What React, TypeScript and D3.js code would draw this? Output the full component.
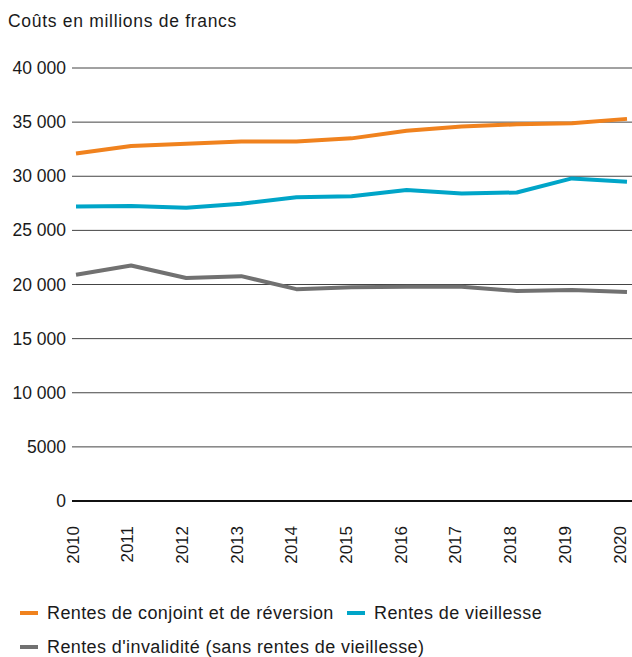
import React from "react";
import * as d3 from "d3";

const years = [2010, 2011, 2012, 2013, 2014, 2015, 2016, 2017, 2018, 2019, 2020];
const conjoint = [32100, 32800, 33000, 33200, 33200, 33500, 34200, 34600, 34800, 34900, 35300];
const vieillesse = [27200, 27260, 27100, 27450, 28070, 28160, 28740, 28400, 28500, 29800, 29500];
const invalidite = [20900, 21750, 20600, 20770, 19570, 19750, 19800, 19800, 19400, 19500, 19300];
const yTicks = [0, 5000, 10000, 15000, 20000, 25000, 30000, 35000, 40000];
const seriesNames = [
  "Rentes de conjoint et de réversion",
  "Rentes de vieillesse",
  "Rentes d'invalidité (sans rentes de vieillesse)",
];
const colors = ["#F0821E", "#00A5C8", "#717171"];

const W = 632;
const H = 657;
const font = "'Liberation Sans', Arial, Helvetica, sans-serif";

export default function App() {
  const x = d3.scaleLinear().domain([2010, 2020]).range([76, 627]);
  const xLabel = d3.scaleLinear().domain([2010, 2020]).range([72.5, 619.5]);
  const y = d3.scaleLinear().domain([0, 40000]).range([501, 68]);
  const line = d3
    .line<number>()
    .x((_, i) => x(years[i]))
    .y((d) => y(d));
  const fmt = (v: number) =>
    v >= 10000 ? d3.format(",")(v).replace(",", " ") : String(v);
  const series = [conjoint, vieillesse, invalidite];

  return (
    <svg
      width={W}
      height={H}
      style={{ position: "absolute", left: 0, top: 0, background: "#fff" }}
      fontFamily={font}
    >
      <text x={8} y={27} fontSize={17.5} letterSpacing={0.7} fill="#1a1a1a">
        Coûts en millions de francs
      </text>
      {yTicks.map((t) => (
        <g key={t}>
          <line
            x1={72}
            x2={632}
            y1={y(t)}
            y2={y(t)}
            stroke={t === 0 ? "#111" : "#444"}
            strokeWidth={t === 0 ? 2 : 1}
          />
          <text
            x={66}
            y={y(t) + 6}
            textAnchor="end"
            fontSize={17.5}
            fill="#1a1a1a"
          >
            {fmt(t)}
          </text>
        </g>
      ))}
      {series.map((s, i) => (
        <path
          key={i}
          d={line(s) || ""}
          fill="none"
          stroke={colors[i]}
          strokeWidth={4}
          strokeLinejoin="round"
        />
      ))}
      {years.map((yr) => (
        <text
          key={yr}
          transform={`translate(${xLabel(yr) + 6},${526}) rotate(-90)`}
          textAnchor="end"
          fontSize={17}
          fill="#1a1a1a"
        >
          {yr}
        </text>
      ))}
      <g>
        <line x1={20} x2={38} y1={613} y2={613} stroke={colors[0]} strokeWidth={4} />
        <text x={47} y={619} fontSize={18} letterSpacing={0.4} fill="#1a1a1a">
          {seriesNames[0]}
        </text>
        <line x1={347} x2={365} y1={613} y2={613} stroke={colors[1]} strokeWidth={4} />
        <text x={374} y={619} fontSize={18} letterSpacing={0.4} fill="#1a1a1a">
          {seriesNames[1]}
        </text>
        <line x1={20} x2={38} y1={647} y2={647} stroke={colors[2]} strokeWidth={4} />
        <text x={47} y={652.5} fontSize={18} letterSpacing={0.4} fill="#1a1a1a">
          {seriesNames[2]}
        </text>
      </g>
    </svg>
  );
}
